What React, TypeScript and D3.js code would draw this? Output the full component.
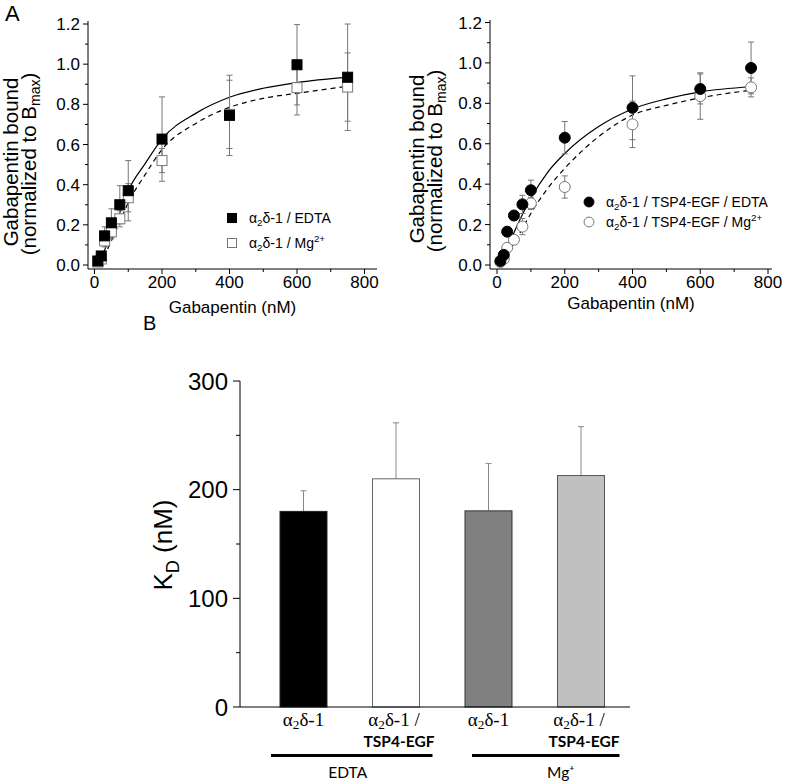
import * as d3 from 'd3';

// gabapentin concentrations (nM)
const conc = [10, 20, 30, 50, 75, 100, 200, 400, 600, 750];

// panel A left: alpha2delta-1
const leftEdta = [0.02, 0.045, 0.145, 0.21, 0.3, 0.37, 0.627, 0.745, 0.997, 0.935];
const leftEdtaErr = [0.01, 0.015, 0.045, 0.07, 0.095, 0.15, 0.21, 0.2, 0.2, 0.265];
const leftMg = [0.015, 0.03, 0.12, 0.165, 0.23, 0.335, 0.52, 0.75, 0.883, 0.886];
const leftMgErr = [0.01, 0.015, 0.03, 0.035, 0.04, 0.07, 0.06, 0.17, 0.136, 0.17];

// panel A right: alpha2delta-1 / TSP4-EGF
const rightEdta = [0.02, 0.05, 0.165, 0.245, 0.3, 0.37, 0.63, 0.778, 0.871, 0.975];
const rightEdtaErr = [0.01, 0.01, 0.015, 0.015, 0.045, 0.05, 0.08, 0.158, 0.074, 0.128];
const rightMg = [0.015, 0.03, 0.085, 0.125, 0.19, 0.305, 0.386, 0.696, 0.836, 0.879];
const rightMgErr = [0.01, 0.01, 0.015, 0.02, 0.04, 0.03, 0.055, 0.115, 0.115, 0.047];

// fitted curves
const fitX = [10, 20, 30, 50, 75, 100, 150, 200, 300, 400, 500, 600, 750];
const leftEdtaFit = [0.012, 0.04, 0.075, 0.155, 0.26, 0.37, 0.505, 0.627, 0.755, 0.835, 0.88, 0.908, 0.935];
const leftMgFit = [0.005, 0.025, 0.05, 0.12, 0.215, 0.31, 0.45, 0.575, 0.705, 0.785, 0.83, 0.855, 0.89];
const rightEdtaFit = [0.02, 0.05, 0.088, 0.16, 0.25, 0.33, 0.46, 0.552, 0.685, 0.772, 0.822, 0.857, 0.882];
const rightMgFit = [0.01, 0.03, 0.053, 0.107, 0.18, 0.255, 0.38, 0.478, 0.635, 0.742, 0.79, 0.827, 0.865];

const xTicks = [0, 200, 400, 600, 800];
const yTicks = [0, 0.2, 0.4, 0.6, 0.8, 1.0, 1.2];

// panel B
const groups = ['EDTA', 'Mg⁺'];
const barIds = ['a2d1_edta', 'tsp_edta', 'a2d1_mg', 'tsp_mg'];
const kd = [180, 210, 180.5, 213];
const kdErr = [19, 51.5, 43.5, 45];
const kdTicks = [0, 100, 200, 300];

const sans = 'Liberation Sans, Arial, sans-serif';
const serif = 'Liberation Serif, Times New Roman, serif';
const calibri = 'Lato, Open Sans, sans-serif';

const Alpha = ({ size, sub = 0.22 }) => (
  <>
    α<tspan fontSize={size * 0.7} dy={size * sub}>2</tspan>
    <tspan dy={-size * sub}>δ-1</tspan>
  </>
);

function Binding({ x, y, axisX, axisTop, xEnd, edta, edtaErr, mg, mgErr, edtaFit, mgFit, circle, legend, titleY, titleX, titleBase }) {
  const line = d3
    .line()
    .x((d) => x(d[0]))
    .y((d) => y(d[1]))
    .curve(d3.curveMonotoneX);
  const axisY = 269;
  const minorY = d3.range(0, 1.21, 0.1);
  const minorX = d3.range(0, 801, 100);
  const mk = (cx, cy, filled, key, s = 10) =>
    circle ? (
      <circle key={key} cx={cx} cy={cy} r={s * 0.55} fill={filled ? '#000' : '#fff'} stroke={filled ? '#000' : '#777'} strokeWidth={1} />
    ) : (
      <rect key={key} x={cx - s / 2} y={cy - s / 2} width={s} height={s} fill={filled ? '#000' : '#fff'} stroke={filled ? '#000' : '#777'} strokeWidth={1} />
    );
  const errs = (vals, errsArr, key) =>
    conc.map((c, i) => {
      const cx = x(c);
      const t = y(vals[i] + errsArr[i]);
      const b = y(vals[i] - errsArr[i]);
      return (
        <g key={key + i} stroke="#777" strokeWidth={1}>
          <line x1={cx} x2={cx} y1={t} y2={b} />
          <line x1={cx - 3} x2={cx + 3} y1={t} y2={t} />
          <line x1={cx - 3} x2={cx + 3} y1={b} y2={b} />
        </g>
      );
    });
  return (
    <g>
      <path d={line(fitX.map((v, i) => [v, edtaFit[i]]))} fill="none" stroke="#000" strokeWidth={1.2} />
      <path d={line(fitX.map((v, i) => [v, mgFit[i]]))} fill="none" stroke="#000" strokeWidth={1.2} strokeDasharray="5,4" />
      {errs(mg, mgErr, 'me')}
      {errs(edta, edtaErr, 'ee')}
      {conc.map((c, i) => mk(x(c), y(mg[i]), false, 'm' + i))}
      {conc.map((c, i) => mk(x(c), y(edta[i]), true, 'e' + i))}
      <g stroke="#000" strokeWidth={1}>
        <line x1={axisX} x2={axisX} y1={axisTop} y2={axisY} />
        <line x1={axisX} x2={xEnd} y1={axisY} y2={axisY} />
        {minorY.map((v, i) => (
          <line key={'yt' + i} x1={axisX - (i % 2 === 0 ? 5 : 3)} x2={axisX} y1={y(v)} y2={y(v)} />
        ))}
        {minorX.map((v, i) => (
          <line key={'xt' + i} x1={x(v)} x2={x(v)} y1={axisY} y2={axisY + (i % 2 === 0 ? 5 : 3)} />
        ))}
      </g>
      <g fontFamily={sans} fontSize={17} fill="#000">
        {yTicks.map((v) => (
          <text key={'yl' + v} x={axisX - 8} y={y(v) + 6} textAnchor="end">
            {v.toFixed(1)}
          </text>
        ))}
        {xTicks.map((v) => (
          <text key={'xl' + v} x={x(v)} y={axisY + 19} textAnchor="middle">
            {v}
          </text>
        ))}
        <text x={(axisX + xEnd) / 2} y={titleBase} textAnchor="middle">
          Gabapentin (nM)
        </text>
        <text transform={`translate(${titleX},${titleY}) rotate(-90)`} textAnchor="middle" fontSize={20.5}>
          Gabapentin bound
        </text>
        <text transform={`translate(${titleX + 18},${titleY + 2}) rotate(-90)`} textAnchor="middle" fontSize={20.5}>
          (normalized to B<tspan fontSize={14} dy={4}>max</tspan>
          <tspan dy={-4}>)</tspan>
        </text>
      </g>
      <g fontFamily={sans} fontSize={legend.size}>
        {mk(legend.x, legend.y1, true, 'l1', 9)}
        {mk(legend.x, legend.y2, false, 'l2', 9)}
        <text x={legend.x + 17} y={legend.y1 + 5}>
          <Alpha size={legend.size} /> / {legend.label}EDTA
        </text>
        <text x={legend.x + 17} y={legend.y2 + 5}>
          <Alpha size={legend.size} /> / {legend.label}Mg<tspan fontSize={legend.size * 0.7} dy={-6}>2+</tspan>
        </text>
      </g>
    </g>
  );
}

function Bars() {
  const y = d3.scaleLinear().domain([0, 300]).range([707, 381]);
  const x = d3.scaleBand().domain(barIds).range([257.25, 627.25]).paddingInner(0.492).paddingOuter(0.246);
  const fills = ['#000', '#fff', '#808080', '#c0c0c0'];
  const strokes = ['#222', '#666', '#333', '#555'];
  const axisX = 240;
  // group underline offsets and label shifts
  const lineOff = [
    [-9, 13],
    [7, 15],
  ];
  const labelShift = [-2, 26];
  return (
    <g>
      {barIds.map((id, i) => {
        const cx = x(id) + x.bandwidth() / 2;
        const top = y(kd[i]);
        const et = y(kd[i] + kdErr[i]);
        return (
          <g key={id}>
            <line x1={cx} x2={cx} y1={top} y2={et} stroke="#888" strokeWidth={1} />
            <line x1={cx - 3} x2={cx + 3} y1={et} y2={et} stroke="#888" strokeWidth={1} />
            <rect x={x(id)} y={top} width={x.bandwidth()} height={y(0) - top} fill={fills[i]} stroke={strokes[i]} strokeWidth={1} />
          </g>
        );
      })}
      <g stroke="#000" strokeWidth={1}>
        <line x1={axisX} x2={axisX} y1={y(300)} y2={y(0)} />
        <line x1={axisX} x2={630} y1={y(0)} y2={y(0)} />
        {d3.range(0, 301, 50).map((v, i) => (
          <line key={v} x1={axisX - (i % 2 === 0 ? 7 : 4)} x2={axisX} y1={y(v)} y2={y(v)} />
        ))}
      </g>
      <g fontFamily={sans} fontSize={24}>
        {kdTicks.map((v) => (
          <text key={v} x={axisX - 12} y={y(v) + 8.5} textAnchor="end">
            {v}
          </text>
        ))}
        <text transform="translate(172,545) rotate(-90)" textAnchor="middle" fontSize={26}>
          K<tspan fontSize={18} dy={7}>D</tspan>
          <tspan dy={-7}> (nM)</tspan>
        </text>
      </g>
      {barIds.map((id, i) => {
        const cx = x(id) + x.bandwidth() / 2;
        return i % 2 === 0 ? (
          <text key={'c' + id} x={cx} y={726} textAnchor="middle" fontFamily={serif} fontSize={19}>
            <Alpha size={19} sub={0.15} />
          </text>
        ) : (
          <g key={'c' + id}>
            <text x={cx - 2} y={726} textAnchor="middle" fontFamily={serif} fontSize={19}>
              <Alpha size={19} sub={0.15} /> /
            </text>
            <text x={cx + 3} y={747} textAnchor="middle" fontFamily={calibri} fontWeight="bold" fontSize={15.5}>
              TSP4-EGF
            </text>
          </g>
        );
      })}
      {groups.map((g, gi) => {
        const a = x(barIds[gi * 2]);
        const b = x(barIds[gi * 2 + 1]) + x.bandwidth();
        return (
          <g key={g}>
            <line x1={a + lineOff[gi][0]} x2={b + lineOff[gi][1]} y1={755.5} y2={755.5} stroke="#000" strokeWidth={3} />
            <text x={(a + b) / 2 + labelShift[gi]} y={778} textAnchor="middle" fontFamily={calibri} fontSize={15.5}>
              {g}
            </text>
          </g>
        );
      })}
    </g>
  );
}

export default function App() {
  const xl = d3.scaleLinear().domain([0, 800]).range([94.5, 364.5]);
  const yl = d3.scaleLinear().domain([0, 1.2]).range([265, 24]);
  const xr = d3.scaleLinear().domain([0, 800]).range([497, 768]);
  const yr = d3.scaleLinear().domain([0, 1.2]).range([265, 22.5]);
  return (
    <svg width={787} height={784} style={{ position: 'absolute', left: 0, top: 0, background: '#fff' }}>
      <rect width={787} height={784} fill="#fff" />
      <text x={5} y={21} fontFamily={sans} fontSize={22}>
        A
      </text>
      <text x={143} y={330} fontFamily={sans} fontSize={20}>
        B
      </text>
      <Binding
        x={xl}
        y={yl}
        axisX={88}
        axisTop={21}
        xEnd={377}
        edta={leftEdta}
        edtaErr={leftEdtaErr}
        mg={leftMg}
        mgErr={leftMgErr}
        edtaFit={leftEdtaFit}
        mgFit={leftMgFit}
        circle={false}
        legend={{ x: 232, y1: 218, y2: 243, label: '', size: 14 }}
        titleY={162}
        titleX={18}
        titleBase={313}
      />
      <Binding
        x={xr}
        y={yr}
        axisX={490}
        axisTop={20}
        xEnd={772}
        edta={rightEdta}
        edtaErr={rightEdtaErr}
        mg={rightMg}
        mgErr={rightMgErr}
        edtaFit={rightEdtaFit}
        mgFit={rightMgFit}
        circle={true}
        legend={{ x: 589, y1: 202, y2: 222, label: 'TSP4-EGF / ', size: 14 }}
        titleY={159}
        titleX={424}
        titleBase={309}
      />
      <Bars />
    </svg>
  );
}
